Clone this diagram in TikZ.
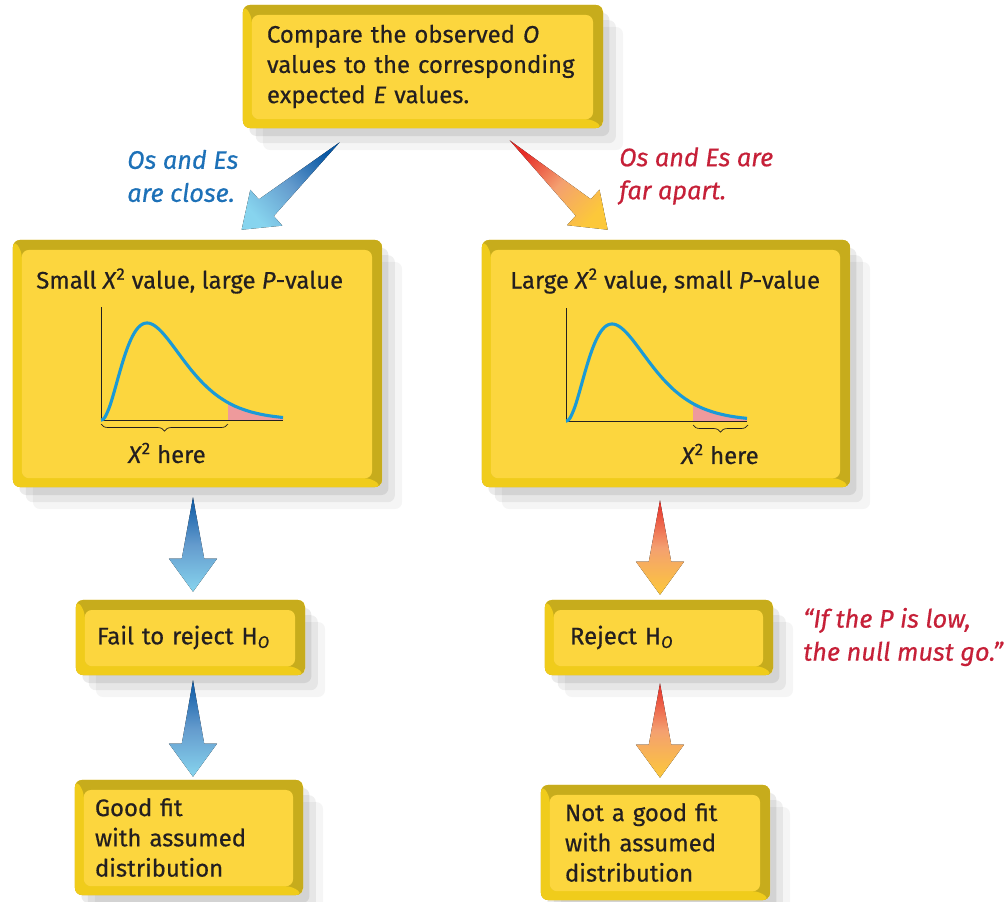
\documentclass[tikz,border=0pt]{standalone}
\usepackage{fontspec}
\setmainfont{Fira Sans}[FakeBold=0.5]
\usetikzlibrary{calc,positioning,decorations.pathreplacing}

\definecolor{facegold}{RGB}{252,214,62}
\definecolor{bevdark}{RGB}{199,172,28}
\definecolor{bevlight}{RGB}{240,204,27}
\definecolor{inkdark}{RGB}{35,31,32}
\definecolor{closeblue}{RGB}{29,113,184}
\definecolor{farred}{RGB}{198,32,56}
\definecolor{curveblue}{RGB}{26,154,214}
\definecolor{tailpink}{RGB}{238,154,156}
\definecolor{arrdeepblue}{RGB}{10,88,164}
\definecolor{arrmidblue}{RGB}{100,155,205}
\definecolor{arrpaleblue}{RGB}{135,212,238}
\definecolor{arrred}{RGB}{230,45,40}
\definecolor{arrsalmon}{RGB}{244,160,112}
\definecolor{arryellow}{RGB}{252,200,58}

\newcommand{\panelfont}{\fontsize{17}{21.5}\selectfont}
\newcommand{\labelfont}{\fontsize{18}{23.5}\selectfont}

\begin{document}
\begin{tikzpicture}[x=0.025cm, y=-0.025cm,
    panel/.style={rectangle, rounded corners=5pt, inner sep=0pt, fill=facegold,
        text=inkdark, font=\panelfont, align=left,
        preaction={fill=black, opacity=0.04, transform canvas={shift={(0.5cm,-0.55cm)}}},
        preaction={fill=black, opacity=0.06, transform canvas={shift={(0.32cm,-0.38cm)}}},
        preaction={fill=black, opacity=0.08, transform canvas={shift={(0.16cm,-0.2cm)}}},
        path picture={
            \fill[bevdark] (path picture bounding box.south west) rectangle (path picture bounding box.north east);
            \fill[bevlight] (path picture bounding box.north west)
                -- ([shift={(0.22cm,-0.25cm)}]path picture bounding box.north west)
                -- ([shift={(0.22cm,0.22cm)}]path picture bounding box.south west)
                -- ([shift={(-0.25cm,0.22cm)}]path picture bounding box.south east)
                -- (path picture bounding box.south east)
                -- (path picture bounding box.south west) -- cycle;
            \fill[facegold] ([shift={(0.22cm,0.22cm)}]path picture bounding box.south west)
                rectangle ([shift={(-0.25cm,-0.25cm)}]path picture bounding box.north east);
        }},
    boxtitle/.style={font=\panelfont, text=inkdark, inner sep=0pt},
    closelabel/.style={font=\labelfont\itshape, text=closeblue, align=left, inner sep=0pt},
    farlabel/.style={font=\labelfont\itshape, text=farred, align=left, inner sep=0pt},
    axisline/.style={inkdark, line width=0.6pt},
    chicurve/.style={curveblue, line width=2.2pt},
    xbrace/.style={decorate, decoration={brace, mirror, amplitude=5pt}, inkdark, line width=0.5pt}
]
    \fill[white] (0,0) rectangle (1008,902);
    \useasboundingbox (0,0) rectangle (1008,902);

    % ---- Top question ----
    \node[panel, minimum width=9cm, minimum height=3.075cm, text width=7.8cm] (top) at (423,66.5)
        {Compare the observed \textit{O}\\values to the corresponding\\expected \textit{E} values.};

    % ---- The two outcomes ----
    \node[panel, minimum width=9.225cm, minimum height=6.175cm] (small) at (197.5,363.5) {};
    \node[panel, minimum width=9.2cm, minimum height=6.175cm] (large) at (666,363.5) {};

    \node[boxtitle, anchor=west] (smalltitle) at (36,281)
        {Small \textit{X}\textsuperscript{2} value, large \textit{P}-value};
    \node[boxtitle, anchor=west] (largetitle) at (510,281)
        {Large \textit{X}\textsuperscript{2} value, small \textit{P}-value};

    % small statistic: brace under the body
    \begin{scope}[shift={(101,420)}]
        \fill[tailpink] (127,0) -- plot[domain=127:182, samples=30]
            (\x, {-97*pow(\x/46,2.3)*exp(-2.3*(\x/46-1))}) -- (182,0) -- cycle;
        \draw[axisline] (0,-113) -- (0,0) -- (182,0);
        \draw[chicurve] (0,0) -- plot[domain=0.5:182, samples=100]
            (\x, {-97*pow(\x/46,2.3)*exp(-2.3*(\x/46-1))});
        \draw[xbrace] (0,4) -- (127,4);
        \node[boxtitle] (smallhere) at (66,33) {\textit{X}\textsuperscript{2} here};
    \end{scope}

    % large statistic: brace under the tail
    \begin{scope}[shift={(566,421)}]
        \fill[tailpink] (127,0) -- plot[domain=127:181, samples=30]
            (\x, {-97*pow(\x/46,2.3)*exp(-2.3*(\x/46-1))}) -- (181,0) -- cycle;
        \draw[axisline] (0,-113) -- (0,0) -- (181,0);
        \draw[chicurve] (0,0) -- plot[domain=0.5:181, samples=100]
            (\x, {-97*pow(\x/46,2.3)*exp(-2.3*(\x/46-1))});
        \draw[xbrace] (127,4) -- (182,4);
        \node[boxtitle] (largehere) at (154,33) {\textit{X}\textsuperscript{2} here};
    \end{scope}

    % ---- Decisions and conclusions ----
    \node[panel, minimum width=5.725cm, minimum height=1.875cm, text width=4.675cm] (fail) at (190.5,637.5)
        {Fail to reject H\textsubscript{\textit{O}}};
    \node[panel, minimum width=5.7cm, minimum height=1.875cm, text width=4.45cm] (reject) at (659,637.5)
        {Reject H\textsubscript{\textit{O}}};
    \node[panel, minimum width=5.7cm, minimum height=2.875cm, text width=4.7cm] (good) at (189,837.5)
        {Good fit\\with assumed\\distribution};
    \node[panel, minimum width=5.725cm, minimum height=2.875cm, text width=4.525cm] (notgood) at (655.5,842.5)
        {Not a good fit\\with assumed\\distribution};

    % ---- Side remarks ----
    \node[closelabel, anchor=west] (closetxt) at (127,176) {Os and Es\\are close.};
    \node[farlabel, anchor=west] (fartxt) at (619,176) {Os and Es are\\far apart.};
    \node[farlabel, anchor=west] (quote) at (803,637) {“If the \textit{P} is low,\\the null must go.”};

    % ---- Shaded arrows (tail point, head tip) ----
    \coordinate (ta) at ($(top.south west)+(97,14)$);
    \coordinate (pa) at ($(small.north west)+(229,-10)$);
    \coordinate (tb) at ($(small.south)+(-4.5,10)$);
    \coordinate (pb) at ($(fail.north)+(2.5,-8)$);
    \coordinate (tc) at ($(fail.south)+(2.5,5)$);
    \coordinate (pc) at ($(good.north)+(4,-3)$);
    \coordinate (td) at ($(top.south west)+(267,12)$);
    \coordinate (pd) at ($(large.north west)+(126,-10)$);
    \coordinate (te) at ($(large.south)+(-6,13)$);
    \coordinate (pe) at ($(reject.north)+(1,-5)$);
    \coordinate (tf) at ($(reject.south)+(1,8)$);
    \coordinate (pf) at ($(notgood.north)+(4.5,-7)$);

    \foreach \t/\p/\ang in {ta/pa/-48, tb/pb/0, tc/pc/0} {
        \fill[top color=arrdeepblue, bottom color=arrpaleblue, middle color=arrmidblue, shading angle=\ang]
            (\t) -- ($(\p)!0.825cm!(\t)!0.28cm!90:(\p)$) -- ($(\p)!0.825cm!(\t)!0.6cm!90:(\p)$)
            -- (\p) -- ($(\p)!0.825cm!(\t)!0.6cm!-90:(\p)$) -- ($(\p)!0.825cm!(\t)!0.28cm!-90:(\p)$) -- cycle;
    }
    \foreach \t/\p/\ang in {td/pd/47, te/pe/0, tf/pf/0} {
        \fill[top color=arrred, bottom color=arryellow, middle color=arrsalmon, shading angle=\ang]
            (\t) -- ($(\p)!0.825cm!(\t)!0.28cm!90:(\p)$) -- ($(\p)!0.825cm!(\t)!0.6cm!90:(\p)$)
            -- (\p) -- ($(\p)!0.825cm!(\t)!0.6cm!-90:(\p)$) -- ($(\p)!0.825cm!(\t)!0.28cm!-90:(\p)$) -- cycle;
    }
\end{tikzpicture}
\end{document}
